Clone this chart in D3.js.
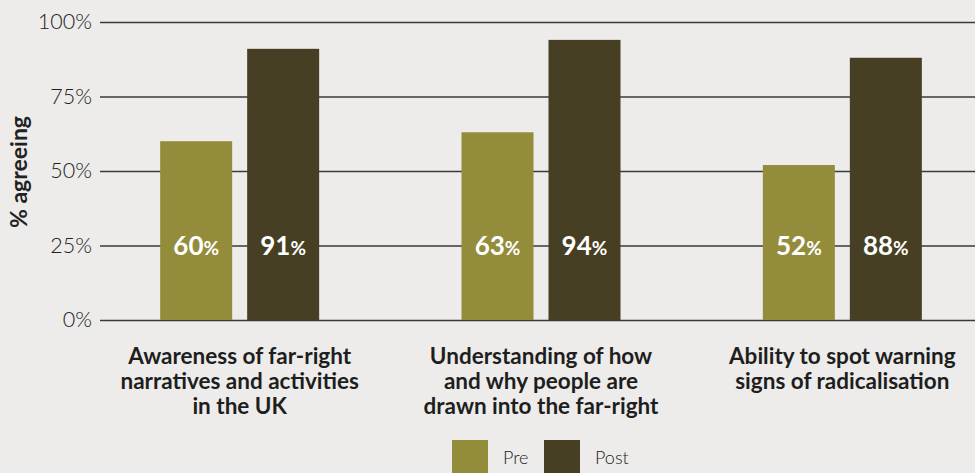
<!DOCTYPE html>
<html>
<head>
<meta charset="utf-8">
<script src="https://cdn.jsdelivr.net/npm/d3@7"></script>
<style>
  body { margin: 0; background: #edecea; }
  svg { display: block; font-family: Lato, "Open Sans", sans-serif; }
</style>
</head>
<body>
<script>
var categories = [
  ['Awareness of far-right', 'narratives and activities', 'in the UK'],
  ['Understanding of how', 'and why people are', 'drawn into the far-right'],
  ['Ability to spot warning', 'signs of radicalisation']
];
var seriesNames = ['Pre', 'Post'];
var preValues = [60, 63, 52];
var postValues = [91, 94, 88];
var yTicks = [0, 25, 50, 75, 100];

var colors = {Pre: '#938c3b', Post: '#463f23'};

var width = 975, height = 473;
var plotLeft = 100, plotTop = 22, plotBottom = 320;

var svg = d3.select('body').append('svg')
    .attr('width', width)
    .attr('height', height);

var y = d3.scaleLinear()
    .domain([0, 100])
    .range([plotBottom, plotTop]);

var x0 = d3.scaleBand()
    .domain(d3.range(categories.length))
    .range([89, 993])
    .padding(0);

var x1 = d3.scaleBand()
    .domain(seriesNames)
    .range([-79.5, 79.5])
    .paddingInner(0.1724);

// gridlines + tick labels
var yAxis = d3.axisLeft(y)
    .tickValues(yTicks)
    .tickSize(-(width - plotLeft))
    .tickPadding(8)
    .tickFormat(function(d) { return d + '%'; });

var gAxis = svg.append('g')
    .attr('transform', 'translate(' + plotLeft + ',0)')
    .call(yAxis);
gAxis.select('.domain').remove();
gAxis.selectAll('.tick line')
    .attr('stroke', '#3a3a3a')
    .attr('stroke-width', 1.5);
gAxis.selectAll('.tick text')
    .attr('x', -8)
    .attr('fill', '#222')
    .attr('font-size', '21.5px')
    .attr('font-weight', 300)
    .attr('font-family', 'Lato, sans-serif');

svg.append('text')
    .attr('transform', 'translate(27,' + (y(50) + 1) + ') rotate(-90)')
    .attr('text-anchor', 'middle')
    .attr('font-size', '23px')
    .attr('font-weight', 'bold')
    .attr('fill', '#222')
    .text('% agreeing');

var rows = categories.map(function(c, i) {
  return {i: i, values: [{key: 'Pre', value: preValues[i]}, {key: 'Post', value: postValues[i]}]};
});

var group = svg.selectAll('.group')
    .data(rows)
    .enter().append('g')
    .attr('class', 'group')
    .attr('transform', function(d) {
      return 'translate(' + (x0(d.i) + x0.bandwidth() / 2) + ',0)';
    });

var bar = group.selectAll('.bar')
    .data(function(d) { return d.values; })
    .enter().append('g')
    .attr('class', 'bar');

bar.append('rect')
    .attr('x', function(d) { return x1(d.key); })
    .attr('y', function(d) { return y(d.value); })
    .attr('width', x1.bandwidth())
    .attr('height', function(d) { return y(0) - y(d.value); })
    .attr('fill', function(d) { return colors[d.key]; });

var label = bar.append('text')
    .attr('x', function(d) { return x1(d.key) + x1.bandwidth() / 2; })
    .attr('y', y(25) + 9)
    .attr('text-anchor', 'middle')
    .attr('fill', '#fff')
    .attr('font-weight', 'bold');
label.append('tspan')
    .attr('font-size', '26px')
    .text(function(d) { return d.value; });
label.append('tspan')
    .attr('font-size', '19px')
    .text('%');

// category labels, one text per line
group.each(function(d) {
  d3.select(this).selectAll('.cat')
      .data(categories[d.i])
      .enter().append('text')
      .attr('class', 'cat')
      .attr('x', 0)
      .attr('y', function(t, i) { return 364 + i * 25; })
      .attr('text-anchor', 'middle')
      .attr('font-size', '22.5px')
      .attr('font-weight', 'bold')
      .attr('fill', '#1e1e1e')
      .text(function(t) { return t; });
});

// legend
var legend = svg.append('g')
    .attr('transform', 'translate(452,440)');

seriesNames.forEach(function(key, index) {
  var item = legend.append('g')
      .attr('transform', 'translate(' + (index * 92) + ',0)');
  item.append('rect')
      .attr('width', 36)
      .attr('height', 36)
      .attr('fill', colors[key]);
  item.append('text')
      .attr('x', 51)
      .attr('y', 24)
      .attr('font-size', '18px')
      .attr('font-weight', 300)
      .attr('fill', '#222')
      .text(key);
});
</script>
</body>
</html>
